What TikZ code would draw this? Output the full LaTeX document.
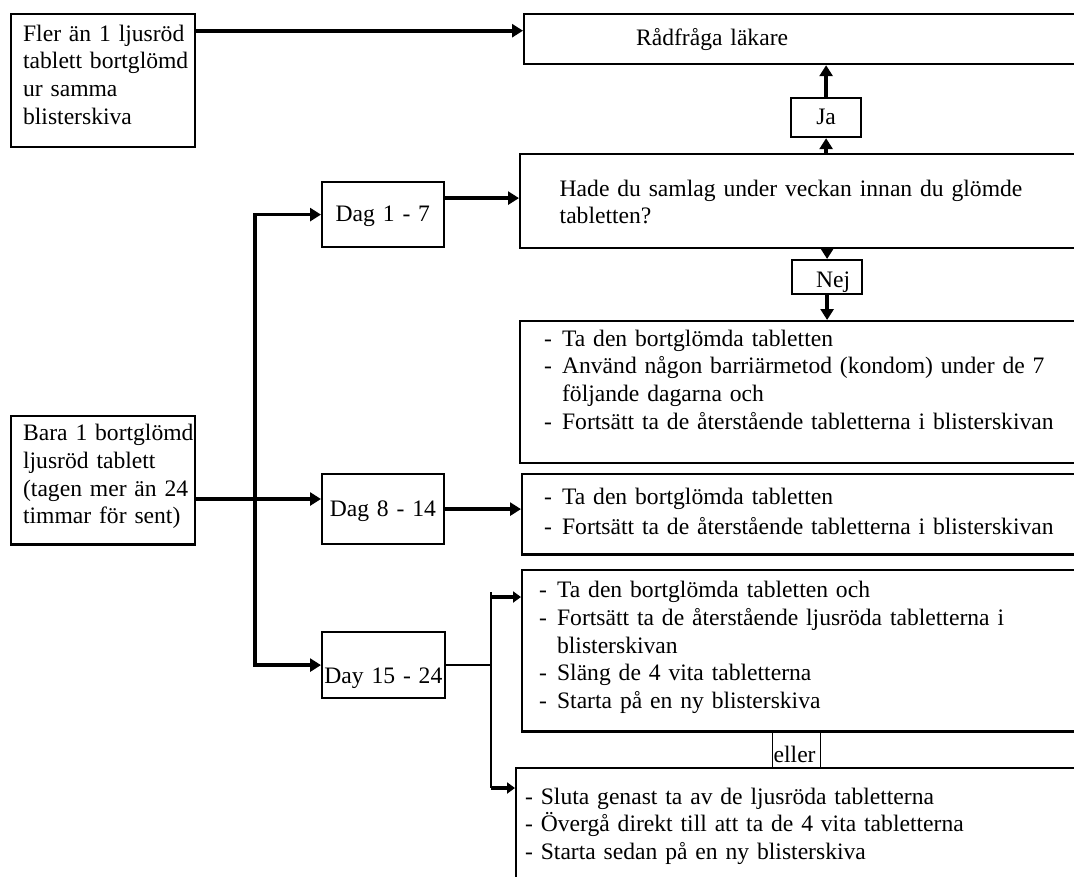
\documentclass[tikz,border=0pt]{standalone}
\usepackage{fontspec}
\setmainfont{Liberation Serif}
\usepackage{tikz}
\usetikzlibrary{arrows.meta}

\newcommand{\itemdash}{\makebox[18pt][l]{-}}

\begin{document}
\begin{tikzpicture}[x=1pt, y=-1pt,
   font=\fontsize{23.6}{27.8}\selectfont,
   box/.style={draw, line width=2.2pt, anchor=north west, inner ysep=0pt, align=left},
   link/.style={line width=3.6pt, -{Triangle[length=11pt,width=13pt]}},
   small link/.style={line width=3.2pt, -{Triangle[length=8pt,width=11pt]}},
   thin link/.style={line width=2pt}]
   \fill[white] (0,0) rectangle (1074,876);
   \useasboundingbox (0,0) rectangle (1074,876);
   \clip (0,0) rectangle (1074,876);

   % left column
   \node[box, inner xsep=12pt, text width=160pt, text height=27.5pt, text depth=105.5pt] (fler) at (10,12.5)
      {\mbox{Fler än 1 ljusröd}\\\mbox{tablett bortglömd}\\ur samma\\blisterskiva};
   \node[box, inner xsep=12pt, text width=160pt, text height=24.3pt, text depth=104pt] (bara) at (10,415)
      {\mbox{Bara 1 bortglömd}\\ljusröd tablett\\\mbox{(tagen mer än 24}\\\mbox{timmar för sent)}};

   % day ranges
   \node[box, inner xsep=0pt, text width=121.5pt, align=center, text height=39.7pt, text depth=25.3pt] (dag1) at (321,181) {Dag 1 - 7};
   \node[box, inner xsep=0pt, text width=121.5pt, align=center, text height=42.7pt, text depth=27.3pt] (dag2) at (321,473) {Dag 8 - 14};
   \node[box, inner xsep=0pt, text width=122.5pt, align=center, text height=51pt, text depth=15pt] (dag3) at (321,631) {Day 15 - 24};

   % right column
   \node[box, inner xsep=112pt, text width=353pt, text height=31.5pt, text depth=19pt] (rad) at (523,12.5) {Rådfråga läkare};
   \node[box, inner xsep=0pt, text width=70pt, align=center, text height=26pt, text depth=13pt] (ja) at (790,97) {Ja};
   \node[box, inner xsep=39.6pt, text width=501.8pt, text height=42pt, text depth=52pt] (hade) at (519,153)
      {Hade du samlag under veckan innan du glömde\\tabletten?};
   \node[box, inner xsep=0pt, text width=70pt, text height=27.7pt, text depth=6.3pt] (nej) at (791,259) {\hspace*{24pt}Nej};
   \node[box, inner xsep=24pt, text width=533pt, text height=25pt, text depth=117pt] (boxA) at (519,320)
      {\itemdash Ta den bortglömda tabletten\\
       \itemdash Använd någon barriärmetod (kondom) under de 7\\
       \hspace*{18pt}följande dagarna och\\
       \itemdash Fortsätt ta de återstående tabletterna i blisterskivan};
   \node[box, inner xsep=22pt, text width=535pt, text height=30.3pt, text depth=50pt] (boxB) at (521,473)
      {\itemdash Ta den bortglömda tabletten\\[2.2pt]
       \itemdash Fortsätt ta de återstående tabletterna i blisterskivan};
   \node[box, inner xsep=17pt, text width=545pt, text height=27.4pt, text depth=134pt] (boxC) at (521,569)
      {\itemdash Ta den bortglömda tabletten och\\
       \itemdash Fortsätt ta de återstående ljusröda tabletterna i\\
       \hspace*{18pt}blisterskivan\\
       \itemdash Släng de 4 vita tabletterna\\
       \itemdash Starta på en ny blisterskiva};
   \node[box, line width=1.3pt, inner xsep=1pt, text width=46pt, text height=30.7pt, text depth=5.3pt] (eller) at (772,731) {eller};
   \node[box, inner xsep=9pt, text width=567pt, text height=36pt, text depth=120pt] (boxD) at (515,767)
      {- Sluta genast ta av de ljusröda tabletterna\\
       - Övergå direkt till att ta de 4 vita tabletterna\\
       - Starta sedan på en ny blisterskiva};

   % helper points
   \coordinate (flero) at ([yshift=-18.2pt]fler.north east);
   \coordinate (d1o) at ([yshift=16.5pt]dag1.east);
   \coordinate (barao) at ([yshift=-84pt]bara.north east);
   \coordinate (split) at (barao -| 255,0);
   \coordinate (forktop) at (491,592);
   \coordinate (forkC) at (491,597);
   \coordinate (forkD) at (491,788);

   % connectors
   \draw[link] (flero) -- (flero -| rad.west);
   \draw[link] (ja.south |- hade.north) -- (ja.south);
   \draw[link] (ja.north) -- (ja.north |- rad.south);
   \draw[link] (nej.north |- hade.south) -- (nej.north);
   \draw[link] (nej.south) -- (nej.south |- boxA.north);
   \draw[link] (d1o) -- (d1o -| hade.west);
   \draw[link] (barao) -- (barao -| dag2.west);
   \draw[link] (split) |- (dag1.west);
   \draw[link] (split) |- (dag3.west);
   \draw[link] (dag2.east) -- (dag2.east -| boxB.west);
   \draw[thin link] (dag3.east) -- (dag3.east -| forktop);
   \draw[thin link] (forktop) -- (forkD);
   \draw[small link] (forkC) -- (forkC -| boxC.west);
   \draw[small link] (forkD) -- (forkD -| boxD.west);
\end{tikzpicture}
\end{document}
